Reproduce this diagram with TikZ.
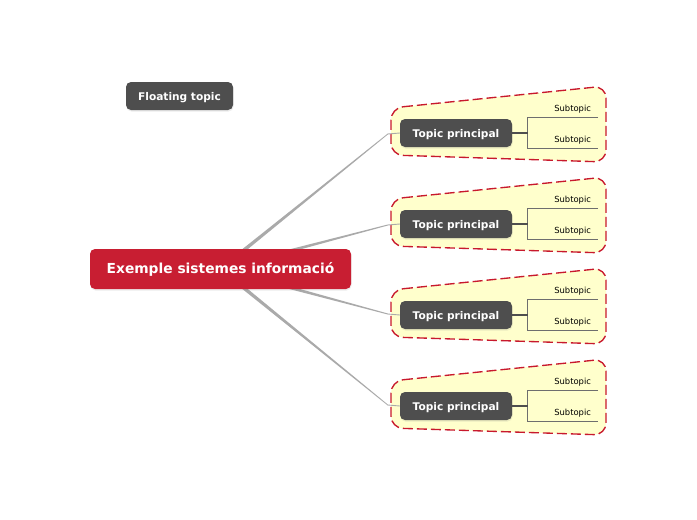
\documentclass[tikz,border=0pt]{standalone}
\usepackage{fontspec}
\setmainfont{DejaVu Sans}
\usetikzlibrary{calc,shadows}
\definecolor{crim}{RGB}{200,30,50}
\definecolor{dark}{RGB}{78,78,78}
\definecolor{conn}{RGB}{170,170,170}
\definecolor{subl}{RGB}{110,110,110}
\definecolor{bfill}{RGB}{255,255,204}
\definecolor{bline}{RGB}{200,25,45}
\pgfdeclarelayer{back}
\pgfdeclarelayer{bg}
\pgfsetlayers{back,bg,main}
\tikzset{
  central/.style={fill=crim, rounded corners=5pt, minimum width=261pt, minimum height=40pt, inner sep=0pt,
    text=white, font=\fontsize{13.8}{16}\selectfont\bfseries, text height=0.8em, text depth=0em,
    drop shadow={opacity=0.15, shadow xshift=0.5pt, shadow yshift=-1.5pt}},
  topic/.style={fill=dark, rounded corners=5pt, minimum width=112pt, minimum height=28pt, inner sep=0pt,
    text=white, font=\fontsize{10.6}{12}\selectfont\bfseries, text height=0.82em, text depth=0em,
    drop shadow={opacity=0.15, shadow xshift=0.5pt, shadow yshift=-1.5pt}},
  floattopic/.style={topic, minimum width=107pt},
  subtopic/.style={minimum height=16pt, text width=56pt, inner xsep=7pt, inner ysep=0pt, align=right,
    font=\fontsize{8.4}{10}\selectfont},
  boundary/.style={fill=bfill, draw=bline, line width=1.35pt, dash pattern=on 10pt off 4pt, rounded corners=12pt},
  subline/.style={draw=subl, line width=0.9pt},
  thinconn/.style={draw=conn, line width=0.9pt},
}
\begin{document}
\begin{tikzpicture}[x=1pt,y=-1pt]
\useasboundingbox (0,0) rectangle (697,520);
\begin{pgfonlayer}{back}
\fill[white] (0,0) rectangle (697,520);
\end{pgfonlayer}

\node[central] (c) at (220.5,269) {Exemple sistemes informació};
\node[floattopic] (f) at (179.5,96) {Floating topic};

\foreach \i/\y/\dy/\w in {1/133/1/2.5, 2/224/1/2.2, 3/315/-1/2.2, 4/406/-1/2.5} {
  \node[topic] (t\i) at (456,\y) {Topic principal};
  \node[subtopic] (s\i a) at (563,\y-24) {Subtopic};
  \node[subtopic] (s\i b) at (563,\y+7) {Subtopic};
  \coordinate (e\i) at ($(t\i.west)+(-12,\dy)$);
  \begin{pgfonlayer}{bg}
    \draw[boundary] ($(t\i.center)+(-65,-25)$) -- ($(t\i.center)+(150,-47)$)
      -- ($(t\i.center)+(150,29)$) -- ($(t\i.center)+(-65,22)$) -- cycle;
    \fill[conn] ($(c.center)+(0,-\w)$) -- ($(e\i)+(0,-0.5)$) -- ($(e\i)+(0,0.5)$) -- ($(c.center)+(0,\w)$) -- cycle;
    \draw[thinconn] (e\i) .. controls ($(t\i.west)+(-6,0)$) .. (t\i.west);
  \end{pgfonlayer}
  \draw[subline] (s\i a.south east) -- (s\i a.south west) -- (s\i b.south west) -- (s\i b.south east);
  \draw[subline, draw=dark, line width=1.1pt] (t\i.east) -- (t\i.east -| s\i a.west);
}
\end{tikzpicture}
\end{document}
